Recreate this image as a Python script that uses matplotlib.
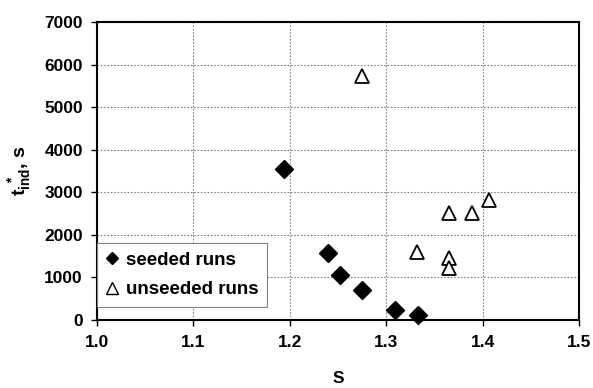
import matplotlib
matplotlib.use("Agg")
import matplotlib.pyplot as plt
from matplotlib.lines import Line2D

plt.rcParams['font.family'] = ['Liberation Sans', 'DejaVu Sans']
plt.rcParams['font.weight'] = 'bold'
plt.rcParams['mathtext.fontset'] = 'custom'
plt.rcParams['mathtext.rm'] = 'Liberation Sans:bold'
plt.rcParams['mathtext.bf'] = 'Liberation Sans:bold'
plt.rcParams['mathtext.it'] = 'Liberation Sans:bold'

seeded_S = [1.194, 1.240, 1.252, 1.275, 1.309, 1.333]
seeded_t = [3540, 1570, 1065, 710, 235, 120]
unseeded_S = [1.275, 1.332, 1.365, 1.365, 1.365, 1.389, 1.406]
unseeded_t = [5740, 1610, 2510, 1450, 1215, 2510, 2820]

xticks = [1.0, 1.1, 1.2, 1.3, 1.4, 1.5]
yticks = [0, 1000, 2000, 3000, 4000, 5000, 6000, 7000]

fig = plt.figure(figsize=(5.93, 3.88), dpi=100)
ax = fig.add_axes([0.163, 0.1753, 0.814, 0.767])

ax.plot(seeded_S, seeded_t, linestyle='none', marker='D', markersize=9,
        markerfacecolor='black', markeredgecolor='black', clip_on=False, zorder=3)
ax.plot(unseeded_S, unseeded_t, linestyle='none', marker='^', markersize=10,
        markerfacecolor='white', markeredgecolor='black', markeredgewidth=1.3,
        clip_on=False, zorder=3)

ax.set_xlim(1.0, 1.5)
ax.set_ylim(0, 7000)
ax.set_xticks(xticks)
ax.set_xticklabels([f"{v:.1f}" for v in xticks])
ax.set_yticks(yticks)
ax.set_yticklabels([str(v) for v in yticks])
ax.tick_params(axis='both', labelsize=12.5, direction='out', length=4, width=1)
ax.tick_params(axis='x', pad=7)
ax.tick_params(axis='y', pad=6)
ax.grid(True, color='#808080', linestyle=(0, (1.5, 1.5)), linewidth=0.8)
ax.set_axisbelow(True)
for s in ax.spines.values():
    s.set_linewidth(1.5)
    s.set_color('black')

ax.set_xlabel('S', fontsize=12.5, fontweight='bold', labelpad=15)
ax.set_ylabel(r'$\mathbf{t_{ind}^{\ *}}$, s', fontsize=14, fontweight='bold', labelpad=8)

handles = [
    Line2D([], [], linestyle='none', marker='D', markersize=6,
           markerfacecolor='black', markeredgecolor='black'),
    Line2D([], [], linestyle='none', marker='^', markersize=8,
           markerfacecolor='white', markeredgecolor='black', markeredgewidth=1.0),
]
leg = ax.legend(handles, ['seeded runs', 'unseeded runs'],
                loc='lower left', bbox_to_anchor=(0.0, 0.045), fancybox=False,
                framealpha=1, edgecolor='#808080', fontsize=13.5,
                handlelength=0.7, handletextpad=0.4, borderpad=0.45,
                labelspacing=0.65, borderaxespad=0.0)
leg.get_frame().set_linewidth(0.8)
for t in leg.get_texts():
    t.set_fontweight('bold')

fig.savefig('out.png', dpi=100)
